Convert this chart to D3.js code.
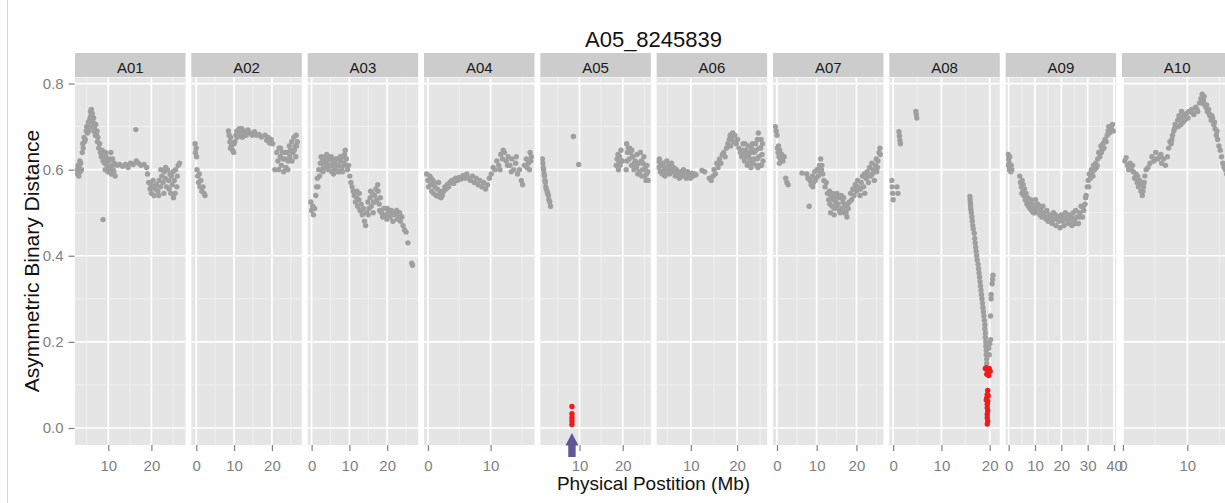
<!DOCTYPE html>
<html>
<head>
<meta charset="utf-8">
<script src="https://cdn.jsdelivr.net/npm/d3@7"></script>
<style>
  body { margin: 0; background: #fff; }
  text { font-family: "Liberation Sans", Arial, Helvetica, sans-serif; }
</style>
</head>
<body>
<svg id="chart" width="1225" height="503"></svg>
<script>
// ---- data: marker A05_8245839, distance per chromosome (Mb, distance) ----
const chromosomes = ["A01", "A02", "A03", "A04", "A05", "A06", "A07", "A08", "A09", "A10"];
const xMin = [2.3, -1.3, -1.05, -0.63, 0.93, 2.6, -1.0, -0.8, -1.15, -0.15];
const xMax = [27.9, 27.9, 28.2, 17.0, 26.5, 26.5, 26.8, 22.1, 40.8, 17.0];
const yTicks = [0, 0.2, 0.4, 0.6, 0.8];
const yMinorTicks = [0.1, 0.3, 0.5, 0.7];
const markerChrom = "A05";
const markerPos = 8.25;

const ptsA01 = [[2.8,0.600],[2.9,0.590],[3.0,0.610],[3.1,0.595],[3.3,0.605],[3.4,0.620],[3.6,0.615],[3.8,0.600],[4.0,0.640],[4.1,0.660],[4.2,0.650],[4.4,0.675],[4.5,0.665],[4.7,0.670],[4.9,0.690],[5.0,0.700],[5.2,0.685],[5.4,0.710],[5.6,0.700],[5.8,0.720],[5.9,0.735],[6.0,0.725],[6.1,0.740],[6.2,0.715],[6.3,0.730],[6.5,0.710],[6.6,0.720],[6.8,0.700],[6.9,0.690],[7.1,0.705],[7.3,0.680],[7.5,0.665],[7.6,0.675],[7.8,0.650],[8.0,0.660],[8.2,0.640],[8.4,0.630],[8.6,0.645],[8.8,0.620],[9.0,0.635],[9.2,0.615],[9.3,0.600],[9.5,0.630],[9.7,0.610],[9.9,0.595],[10.1,0.620],[10.3,0.605],[10.5,0.625],[10.7,0.590],[10.9,0.610],[11.1,0.600],[11.4,0.615],[11.6,0.585],[12.0,0.610],[12.6,0.612],[13.3,0.608],[14.0,0.612],[14.6,0.605],[15.2,0.615],[15.8,0.612],[16.4,0.693],[16.5,0.620],[17.0,0.615],[17.6,0.610],[18.3,0.612],[18.9,0.605],[19.1,0.590],[19.4,0.570],[19.7,0.555],[20.0,0.545],[20.3,0.560],[20.6,0.540],[20.9,0.555],[21.2,0.565],[21.5,0.550],[21.8,0.575],[22.1,0.560],[22.4,0.585],[22.7,0.570],[23.0,0.595],[23.2,0.580],[23.5,0.560],[23.7,0.600],[24.0,0.575],[24.3,0.590],[24.5,0.545],[24.8,0.565],[25.1,0.535],[25.3,0.575],[25.6,0.600],[25.9,0.560],[26.2,0.610],[26.5,0.615],[8.8,0.484],
  [9.4,0.640],[9.8,0.625],[10.2,0.595],[10.6,0.640],[11.0,0.625],[11.3,0.595],[5.5,0.690],[5.7,0.715],[6.4,0.700],[6.7,0.690],[7.0,0.680],[7.4,0.690],[3.2,0.585],[3.5,0.595],[21.7,0.540],[22.2,0.600],[22.9,0.545],[23.3,0.605],[24.1,0.555],[24.6,0.585],[25.0,0.595],[25.5,0.545],[26.0,0.585],[20.4,0.575],[19.9,0.565]];

const ptsA02 = [[-0.3,0.660],[-0.2,0.640],[0.0,0.650],[0.1,0.630],[0.2,0.600],[0.4,0.585],[0.6,0.570],[0.8,0.590],[1.0,0.560],[1.2,0.575],[1.5,0.550],[1.8,0.560],[2.1,0.545],[2.3,0.540],[8.5,0.690],[8.7,0.680],[8.9,0.665],[9.1,0.675],[9.3,0.655],[9.6,0.645],[9.9,0.640],[10.2,0.665],[10.5,0.680],[10.8,0.675],[11.2,0.690],[11.6,0.680],[12.0,0.695],[12.4,0.685],[12.8,0.690],[13.2,0.680],[13.7,0.692],[14.2,0.685],[14.8,0.680],[15.4,0.688],[16.0,0.680],[16.6,0.682],[17.2,0.676],[18.2,0.680],[18.6,0.668],[19.0,0.675],[19.4,0.662],[19.8,0.670],[20.2,0.660],[20.8,0.600],[21.3,0.640],[21.6,0.620],[21.9,0.650],[22.2,0.630],[22.5,0.610],[22.8,0.640],[23.1,0.595],[23.4,0.625],[23.7,0.605],[24.0,0.640],[24.3,0.620],[24.6,0.655],[24.9,0.645],[25.2,0.665],[25.5,0.640],[25.8,0.675],[26.1,0.655],[26.4,0.680],[26.7,0.665],[26.3,0.630],
  [21.8,0.600],[22.3,0.650],[23.0,0.625],[23.6,0.640],[24.2,0.600],[24.7,0.630],[25.3,0.620],[25.9,0.645],[26.5,0.655],[9.0,0.650],[9.4,0.660],[10.0,0.660],[10.7,0.690],[11.4,0.695],[12.2,0.675]];

const ptsA03 = [[-0.2,0.525],[0.0,0.505],[0.3,0.515],[0.5,0.495],[0.8,0.510],[1.1,0.540],[1.3,0.560],[1.5,0.580],[1.7,0.560],[1.9,0.600],[2.1,0.585],[2.3,0.615],[2.6,0.600],[2.9,0.625],[3.2,0.610],[3.5,0.630],[3.8,0.605],[4.1,0.620],[4.4,0.600],[4.7,0.625],[5.0,0.610],[5.3,0.595],[5.6,0.620],[5.9,0.605],[6.2,0.615],[6.5,0.600],[6.8,0.625],[7.1,0.610],[7.4,0.595],[7.7,0.620],[8.0,0.605],[8.3,0.630],[8.6,0.615],[8.9,0.645],[9.2,0.625],[9.5,0.600],[9.8,0.610],[10.1,0.585],[10.4,0.570],[10.7,0.560],[11.0,0.550],[11.3,0.540],[11.6,0.525],[11.9,0.535],[12.2,0.515],[12.5,0.530],[12.8,0.505],[13.1,0.520],[13.4,0.495],[13.7,0.510],[14.0,0.480],[14.3,0.470],[14.6,0.500],[14.9,0.525],[15.2,0.510],[15.5,0.535],[15.8,0.515],[16.1,0.545],[16.4,0.525],[16.7,0.540],[17.0,0.555],[17.3,0.530],[17.6,0.550],[17.9,0.520],[18.2,0.535],[18.5,0.500],[18.8,0.490],[19.1,0.510],[19.5,0.495],[19.9,0.485],[20.3,0.500],[20.7,0.490],[21.1,0.505],[21.5,0.480],[21.9,0.495],[22.3,0.500],[22.7,0.485],[23.1,0.495],[23.5,0.480],[23.9,0.490],[24.2,0.470],[24.6,0.460],[25.0,0.455],[25.5,0.430],[26.5,0.383],[26.7,0.378],
  [2.5,0.630],[3.0,0.595],[3.4,0.615],[4.0,0.635],[4.6,0.610],[5.2,0.630],[5.8,0.590],[6.4,0.625],[7.0,0.595],[7.6,0.630],[8.2,0.595],[8.7,0.635],[9.1,0.610],[12.0,0.550],[12.6,0.545],[13.2,0.505],[15.0,0.495],[15.6,0.550],[16.3,0.500],[16.9,0.525],[17.5,0.565],[18.0,0.505],[20.0,0.510],[21.3,0.495],[22.5,0.505],[23.3,0.500]];

const ptsA04 = [[-0.2,0.590],[0.0,0.575],[0.1,0.560],[0.3,0.585],[0.4,0.565],[0.6,0.550],[0.8,0.575],[0.9,0.545],[1.1,0.560],[1.3,0.540],[1.5,0.555],[1.7,0.570],[1.9,0.545],[2.1,0.535],[2.3,0.540],[2.5,0.550],[2.7,0.560],[2.9,0.555],[3.1,0.565],[3.3,0.560],[3.5,0.570],[3.8,0.575],[4.1,0.568],[4.4,0.580],[4.7,0.575],[5.0,0.582],[5.3,0.578],[5.6,0.586],[5.9,0.580],[6.2,0.590],[6.5,0.580],[6.8,0.575],[7.1,0.585],[7.4,0.570],[7.7,0.580],[8.0,0.565],[8.3,0.575],[8.6,0.560],[8.9,0.570],[9.2,0.555],[9.5,0.565],[9.8,0.580],[10.1,0.590],[10.4,0.605],[10.7,0.600],[11.0,0.620],[11.3,0.610],[11.6,0.635],[11.9,0.625],[12.2,0.640],[12.5,0.620],[12.8,0.630],[13.1,0.610],[13.4,0.625],[13.7,0.600],[14.0,0.615],[14.3,0.590],[14.6,0.600],[14.9,0.575],[15.1,0.565],[15.4,0.610],[15.7,0.625],[16.0,0.615],[16.3,0.640],[16.5,0.630],[16.2,0.600],
  [0.5,0.580],[1.0,0.570],[1.6,0.538],[2.2,0.550],[11.5,0.600],[12.0,0.645],[12.7,0.610],[13.3,0.595],[14.1,0.630],[15.8,0.605],[16.4,0.620]];

const ptsA05 = [[1.4,0.625],[1.5,0.615],[1.6,0.605],[1.7,0.600],[1.8,0.590],[1.9,0.585],[2.0,0.575],[2.1,0.570],[2.2,0.560],[2.3,0.555],[2.5,0.550],[2.6,0.545],[2.8,0.540],[2.9,0.530],[3.1,0.525],[3.3,0.515],[8.6,0.677],[9.8,0.612],[18.5,0.610],[18.7,0.625],[18.9,0.635],[19.1,0.615],[19.3,0.630],[19.6,0.645],[19.9,0.620],[20.9,0.660],[21.1,0.640],[21.3,0.650],[21.5,0.625],[21.8,0.640],[22.0,0.610],[22.3,0.630],[22.6,0.600],[22.9,0.620],[23.2,0.605],[23.5,0.590],[23.8,0.615],[24.1,0.640],[24.3,0.620],[24.6,0.600],[24.9,0.630],[25.1,0.585],[25.4,0.575],[25.6,0.610],[25.8,0.595],
  [19.0,0.600],[19.4,0.610],[21.0,0.620],[21.6,0.650],[22.1,0.645],[22.7,0.615],[23.3,0.635],[23.9,0.595],[24.4,0.585],[24.7,0.615],[25.2,0.605],[25.5,0.590],[25.9,0.575],[20.8,0.600]];

const ptsA06 = [[2.8,0.620],[3.0,0.605],[3.2,0.625],[3.4,0.595],[3.6,0.610],[3.8,0.590],[4.0,0.615],[4.2,0.600],[4.4,0.585],[4.6,0.605],[4.8,0.620],[5.0,0.595],[5.2,0.610],[5.4,0.590],[5.6,0.600],[5.8,0.615],[6.0,0.595],[6.3,0.605],[6.6,0.585],[6.9,0.600],[7.2,0.590],[7.5,0.580],[7.8,0.595],[8.1,0.585],[8.4,0.600],[8.7,0.590],[9.0,0.580],[9.3,0.595],[9.6,0.588],[9.9,0.580],[10.2,0.592],[10.5,0.585],[10.8,0.590],[11.1,0.588],[12.4,0.598],[13.0,0.595],[14.0,0.580],[14.4,0.575],[14.8,0.585],[15.0,0.600],[15.3,0.590],[15.6,0.615],[15.9,0.605],[16.2,0.625],[16.5,0.615],[16.8,0.635],[17.1,0.640],[17.4,0.630],[17.7,0.650],[18.0,0.660],[18.3,0.670],[18.6,0.655],[18.9,0.675],[19.2,0.665],[19.5,0.680],[19.8,0.660],[20.1,0.670],[20.4,0.650],[20.7,0.640],[21.0,0.630],[21.3,0.660],[21.6,0.620],[21.9,0.645],[22.2,0.610],[22.5,0.635],[22.8,0.625],[23.1,0.650],[23.4,0.615],[23.7,0.640],[24.0,0.660],[24.3,0.625],[24.6,0.685],[24.8,0.650],[25.0,0.610],[25.2,0.670],[25.4,0.635],[25.6,0.620],[24.5,0.605],[23.0,0.605],
  [21.2,0.645],[21.7,0.660],[22.0,0.630],[22.4,0.655],[22.9,0.640],[23.3,0.660],[23.6,0.625],[24.1,0.645],[24.4,0.670],[24.7,0.630],[25.1,0.650],[25.5,0.660],[25.3,0.610],[24.2,0.610],[22.6,0.615],[21.5,0.640],[19.0,0.685],[18.5,0.680],[3.5,0.615],[4.5,0.595],[5.5,0.605],[6.5,0.595],[7.6,0.590],[8.5,0.585]];

const ptsA07 = [[-0.4,0.700],[-0.2,0.690],[0.0,0.680],[0.1,0.650],[0.3,0.640],[0.5,0.630],[0.7,0.645],[0.9,0.625],[1.2,0.635],[1.5,0.620],[1.8,0.630],[2.2,0.580],[2.5,0.570],[2.8,0.565],[6.3,0.592],[7.5,0.590],[7.8,0.580],[8.1,0.515],[8.3,0.575],[8.6,0.565],[8.9,0.585],[9.2,0.570],[9.5,0.595],[9.8,0.580],[10.1,0.600],[10.4,0.585],[10.7,0.610],[11.0,0.625],[11.2,0.600],[11.5,0.590],[11.8,0.575],[12.1,0.560],[12.4,0.570],[12.7,0.545],[13.0,0.530],[13.3,0.520],[13.6,0.540],[13.9,0.515],[14.2,0.530],[14.5,0.510],[14.8,0.525],[15.1,0.545],[15.4,0.520],[15.7,0.505],[16.0,0.535],[16.3,0.510],[16.6,0.525],[16.9,0.500],[17.2,0.515],[17.6,0.490],[17.9,0.510],[18.2,0.525],[18.5,0.545],[18.8,0.530],[19.1,0.555],[19.4,0.540],[19.7,0.565],[20.0,0.550],[20.3,0.575],[20.6,0.555],[20.9,0.540],[21.2,0.570],[21.5,0.585],[21.8,0.560],[22.1,0.545],[22.4,0.580],[22.7,0.595],[23.0,0.570],[23.3,0.605],[23.6,0.585],[23.9,0.615],[24.2,0.600],[24.5,0.575],[24.8,0.610],[25.1,0.595],[25.4,0.620],[25.7,0.640],[25.9,0.650],[26.0,0.635],
  [12.9,0.545],[13.2,0.550],[13.5,0.500],[14.0,0.545],[14.4,0.495],[14.7,0.540],[15.0,0.515],[15.5,0.535],[15.9,0.500],[16.2,0.540],[16.5,0.505],[16.8,0.535],[17.0,0.520],[17.4,0.500],[17.8,0.520],[9.0,0.560],[9.6,0.575],[10.3,0.600],[10.8,0.595],[11.3,0.610],[0.6,0.615],[0.4,0.655],[19.5,0.555],[20.4,0.560],[21.0,0.555],[22.0,0.590],[23.1,0.585],[24.0,0.590],[25.0,0.625],[25.3,0.605]];

const ptsA08 = [[-0.3,0.575],[-0.2,0.560],[-0.1,0.545],[0.0,0.530],[0.8,0.560],[1.0,0.545],[1.2,0.688],[1.3,0.678],[1.4,0.668],[1.5,0.660],[4.7,0.735],[4.8,0.728],[4.9,0.720],[15.9,0.538],[15.95,0.530],[16.0,0.522],[16.05,0.515],[16.1,0.508],[16.2,0.500],[16.3,0.490],[16.4,0.480],[16.5,0.470],[16.6,0.462],[16.8,0.452],[16.9,0.440],[17.0,0.430],[17.1,0.420],[17.2,0.410],[17.3,0.400],[17.4,0.390],[17.6,0.380],[17.7,0.370],[17.8,0.360],[17.9,0.350],[18.0,0.340],[18.1,0.330],[18.2,0.320],[18.3,0.310],[18.4,0.300],[18.5,0.290],[18.6,0.280],[18.7,0.270],[18.8,0.260],[18.9,0.250],[19.0,0.240],[19.0,0.230],[19.1,0.220],[19.1,0.210],[19.2,0.200],[19.2,0.190],[19.3,0.180],[19.3,0.170],[19.4,0.160],[19.4,0.150],[20.7,0.355],[20.6,0.345],[20.5,0.335],[20.3,0.310],[20.3,0.300],[20.2,0.260],[20.2,0.205],[20.0,0.195],[19.8,0.185],[19.9,0.170]];

const ptsA09 = [[-0.2,0.635],[0.0,0.625],[0.2,0.615],[0.4,0.630],[0.6,0.605],[0.8,0.595],[1.0,0.610],[1.2,0.600],[4.2,0.585],[4.5,0.570],[4.8,0.560],[5.1,0.575],[5.4,0.550],[5.7,0.540],[6.0,0.555],[6.3,0.530],[6.6,0.545],[6.9,0.520],[7.2,0.535],[7.5,0.515],[7.8,0.525],[8.1,0.510],[8.4,0.530],[8.7,0.505],[9.0,0.520],[9.4,0.500],[9.8,0.515],[10.2,0.530],[10.6,0.505],[11.0,0.520],[11.4,0.510],[11.8,0.495],[12.2,0.505],[12.6,0.490],[13.0,0.515],[13.5,0.500],[14.0,0.490],[14.5,0.505],[15.0,0.480],[15.5,0.495],[16.0,0.490],[16.5,0.475],[17.0,0.500],[17.5,0.485],[18.0,0.470],[18.5,0.490],[19.0,0.480],[19.5,0.465],[20.0,0.495],[20.5,0.480],[21.0,0.470],[21.5,0.500],[22.0,0.485],[22.5,0.475],[23.0,0.495],[23.5,0.480],[24.0,0.470],[24.5,0.500],[25.0,0.485],[25.5,0.505],[26.0,0.490],[26.5,0.475],[27.0,0.500],[27.5,0.515],[28.0,0.490],[28.5,0.505],[29.0,0.520],[29.4,0.540],[29.8,0.560],[30.2,0.575],[30.6,0.590],[31.0,0.580],[31.4,0.600],[31.8,0.595],[32.2,0.610],[32.6,0.600],[33.0,0.615],[33.4,0.605],[33.8,0.625],[34.2,0.640],[34.6,0.630],[35.0,0.655],[35.4,0.645],[35.8,0.660],[36.2,0.650],[36.6,0.670],[37.0,0.665],[37.4,0.680],[37.8,0.690],[38.2,0.685],[38.6,0.700],[39.0,0.695],[39.4,0.705],[39.7,0.690],
  [5.0,0.545],[5.5,0.565],[6.2,0.545],[6.8,0.535],[7.4,0.525],[8.0,0.520],[9.2,0.510],[10.0,0.500],[12.0,0.515],[14.2,0.485],[16.2,0.485],[17.8,0.495],[19.2,0.490],[20.8,0.488],[22.2,0.495],[23.8,0.490],[25.3,0.475],[26.8,0.490],[28.3,0.515],[29.2,0.535],[30.4,0.560],[32.0,0.585],[33.6,0.610],[35.2,0.640],[36.4,0.665],[38.0,0.700],[39.2,0.690],[-0.1,0.610],[0.3,0.600]];

const ptsA10 = [[0.3,0.620],[0.5,0.628],[0.7,0.610],[0.9,0.600],[1.1,0.615],[1.3,0.605],[1.6,0.595],[1.8,0.580],[2.0,0.590],[2.2,0.570],[2.4,0.560],[2.6,0.575],[2.8,0.550],[3.0,0.540],[3.2,0.560],[3.4,0.585],[3.6,0.600],[3.9,0.605],[4.2,0.615],[4.5,0.630],[4.8,0.620],[5.1,0.640],[5.4,0.625],[5.7,0.630],[6.0,0.615],[6.3,0.625],[6.6,0.610],[6.9,0.630],[7.1,0.650],[7.3,0.665],[7.5,0.660],[7.7,0.680],[7.9,0.690],[8.1,0.705],[8.3,0.700],[8.5,0.715],[8.7,0.725],[8.9,0.720],[9.1,0.735],[9.3,0.710],[9.5,0.725],[9.8,0.730],[10.1,0.720],[10.4,0.735],[10.7,0.740],[11.0,0.728],[11.3,0.745],[11.6,0.735],[11.9,0.755],[12.1,0.765],[12.3,0.775],[12.5,0.760],[12.7,0.750],[12.9,0.745],[13.1,0.735],[13.3,0.740],[13.5,0.725],[13.7,0.715],[13.9,0.720],[14.1,0.705],[14.3,0.695],[14.5,0.680],[14.7,0.670],[14.9,0.655],[15.1,0.645],[15.3,0.630],[15.5,0.615],[15.7,0.605],[15.9,0.600],[16.1,0.590],
  [1.5,0.610],[2.3,0.585],[2.9,0.565],[3.1,0.550],[3.3,0.570],[5.0,0.625],[5.9,0.635],[7.6,0.670],[8.0,0.695],[8.6,0.700],[9.0,0.705],[9.6,0.715],[10.2,0.735],[10.9,0.730],[11.5,0.740],[12.2,0.755],[12.6,0.770],[13.0,0.750],[13.4,0.730],[13.8,0.725],[14.2,0.710],[14.6,0.690]];

// highlighted loci (closest to the marker)
const redA05 = [[8.25,0.050],[8.25,0.033],[8.25,0.024],[8.25,0.016],[8.25,0.008]];
const redA08 = [[19.1,0.138],[19.3,0.140],[19.5,0.135],[19.7,0.130],[19.9,0.138],[20.1,0.132],[19.4,0.125],[19.8,0.122],[19.6,0.087],[19.5,0.078],[19.4,0.070],[19.6,0.062],[19.5,0.055],[19.5,0.047],[19.6,0.040],[19.5,0.032],[19.5,0.024],[19.6,0.016],[19.5,0.009],[19.3,0.065],[19.7,0.075]];

const greyPoints = [ptsA01, ptsA02, ptsA03, ptsA04, ptsA05, ptsA06, ptsA07, ptsA08, ptsA09, ptsA10];
const redPoints = { A05: redA05, A08: redA08 };

// ---- layout ----
const svg = d3.select("#chart");
const W = 1225, H = 503;
const left0 = 75, step = 116.33, panelW = 110.5;
const panelTop = 77.5, panelBottom = 445, stripTop = 53;

svg.append("rect").attr("width", W).attr("height", H).attr("fill", "#fff");
svg.append("line").attr("x1", 7.5).attr("x2", 7.5).attr("y1", 0).attr("y2", H)
  .attr("stroke", "#d4d4d4").attr("stroke-width", 1);

const y = d3.scaleLinear().domain([-0.0395, 0.814]).range([panelBottom, panelTop]);

chromosomes.forEach((chr, i) => {
  const x0 = left0 + i * step;
  const x = d3.scaleLinear().domain([xMin[i], xMax[i]]).range([x0, x0 + panelW]);
  const g = svg.append("g");

  const clipId = "clip-" + chr;
  svg.append("clipPath").attr("id", clipId)
    .append("rect").attr("x", x0).attr("y", panelTop).attr("width", panelW).attr("height", panelBottom - panelTop);

  g.append("rect").attr("x", x0).attr("y", panelTop).attr("width", panelW)
    .attr("height", panelBottom - panelTop).attr("fill", "#e5e5e5");

  const majors = d3.range(Math.ceil(xMin[i] / 10) * 10, xMax[i] + 1e-9, 10);
  const minors = d3.range(Math.ceil(xMin[i] / 5) * 5, xMax[i], 5).filter(v => v % 10 !== 0);

  // minor grid
  g.selectAll(".ymin").data(yMinorTicks).join("line")
    .attr("x1", x0).attr("x2", x0 + panelW).attr("y1", d => y(d)).attr("y2", d => y(d))
    .attr("stroke", "#f2f2f2").attr("stroke-width", 0.9);
  g.selectAll(".xmin").data(minors).join("line")
    .attr("x1", d => x(d)).attr("x2", d => x(d)).attr("y1", panelTop).attr("y2", panelBottom)
    .attr("stroke", "#f2f2f2").attr("stroke-width", 0.9);
  // major grid
  g.selectAll(".ymaj").data(yTicks).join("line")
    .attr("x1", x0).attr("x2", x0 + panelW).attr("y1", d => y(d)).attr("y2", d => y(d))
    .attr("stroke", "#fff").attr("stroke-width", 1.7);
  g.selectAll(".xmaj").data(majors).join("line")
    .attr("x1", d => x(d)).attr("x2", d => x(d)).attr("y1", panelTop).attr("y2", panelBottom)
    .attr("stroke", "#fff").attr("stroke-width", 1.7);

  // points
  const pg = g.append("g").attr("clip-path", `url(#${clipId})`);
  pg.selectAll("circle.grey").data(greyPoints[i]).join("circle")
    .attr("cx", d => x(d[0])).attr("cy", d => y(d[1])).attr("r", 2.7)
    .attr("fill", "#9f9f9f");
  if (redPoints[chr]) {
    pg.selectAll("circle.red").data(redPoints[chr]).join("circle")
      .attr("cx", d => x(d[0])).attr("cy", d => y(d[1])).attr("r", 2.7)
      .attr("fill", "#f21a1a");
  }

  // strip
  g.append("rect").attr("x", x0).attr("y", stripTop).attr("width", panelW)
    .attr("height", panelTop - stripTop - 0.5).attr("fill", "#cccccc");
  g.append("text").attr("x", x0 + panelW / 2).attr("y", 72.5)
    .attr("text-anchor", "middle").attr("font-size", 15).attr("fill", "#1a1a1a").text(chr);

  // x axis
  const ax = g.append("g").attr("transform", `translate(0,${panelBottom})`)
    .call(d3.axisBottom(x).tickValues(majors).tickSize(6).tickPadding(9).tickFormat(d3.format("d")));
  ax.select(".domain").remove();
  ax.selectAll("line").attr("stroke", "#7f7f7f").attr("stroke-width", 1.2);
  ax.selectAll("text").attr("font-size", 15).attr("fill", "#7f7f7f")
    .attr("font-family", "'Liberation Sans', Arial, sans-serif");

  // marker arrow
  if (chr === markerChrom) {
    const cx = x(markerPos);
    const arrow = d3.path();
    arrow.moveTo(cx, 433);
    arrow.lineTo(cx + 6.5, 445.5);
    arrow.lineTo(cx + 3.7, 445.5);
    arrow.lineTo(cx + 3.7, 457);
    arrow.lineTo(cx - 3.7, 457);
    arrow.lineTo(cx - 3.7, 445.5);
    arrow.lineTo(cx - 6.5, 445.5);
    arrow.closePath();
    svg.append("path").attr("d", arrow.toString()).attr("fill", "#5e5996");
  }
});

// y axis
const ay = svg.append("g").attr("transform", `translate(${left0 - 0.5},0)`)
  .call(d3.axisLeft(y).tickValues(yTicks).tickSize(6).tickPadding(5).tickFormat(d3.format(".1f")));
ay.select(".domain").remove();
ay.selectAll("line").attr("stroke", "#7f7f7f").attr("stroke-width", 1.2);
ay.selectAll("text").attr("font-size", 15).attr("fill", "#7f7f7f")
  .attr("font-family", "'Liberation Sans', Arial, sans-serif");

// titles
svg.append("text").attr("x", 653.5).attr("y", 46.5).attr("text-anchor", "middle")
  .attr("font-size", 22).attr("fill", "#111").text("A05_8245839");
svg.append("text").attr("x", 653.5).attr("y", 490).attr("text-anchor", "middle")
  .attr("font-size", 19).attr("fill", "#111").text("Physical Postition (Mb)");
svg.append("text").attr("transform", "translate(39,261) rotate(-90)").attr("text-anchor", "middle")
  .attr("font-size", 21).attr("fill", "#111").text("Asymmetric Binary Distance");
</script>
</body>
</html>
